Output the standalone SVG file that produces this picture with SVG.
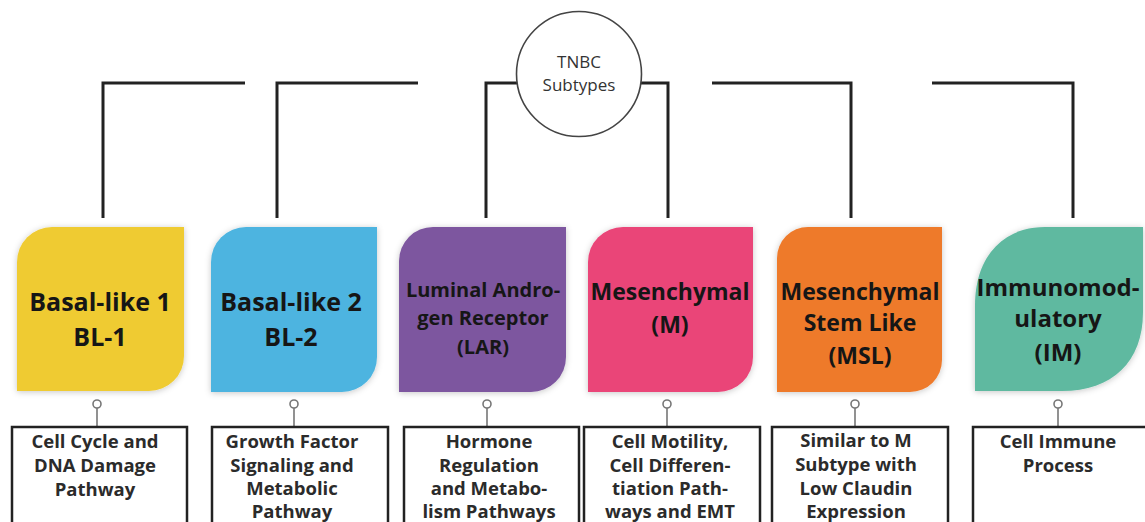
<svg xmlns="http://www.w3.org/2000/svg" width="1145" height="522" viewBox="0 0 1145 522">
<defs>
<filter id="sh" x="-10%" y="-10%" width="120%" height="120%">
<feDropShadow dx="0" dy="1" stdDeviation="3" flood-color="#000" flood-opacity="0.22"/>
</filter>
</defs>
<style>
.conn{fill:none;stroke:#222;stroke-width:3}
.stem{fill:none;stroke:#777;stroke-width:1.6}
.dot{fill:#fff;stroke:#777;stroke-width:1.6}
.hub{fill:#fff;stroke:#444;stroke-width:1.6}
.hubt{font-family:"Open Sans","Liberation Sans",sans-serif;font-size:17px;fill:#333;text-anchor:middle}
.st{font-family:"Open Sans","Liberation Sans",sans-serif;font-weight:700;fill:#161616;text-anchor:middle}
.box{fill:#fff;stroke:#222;stroke-width:2.5}
.dt{font-family:"Open Sans","Liberation Sans",sans-serif;font-weight:700;font-size:18.5px;fill:#2b2b2b;text-anchor:middle}
</style>
<rect width="1145" height="522" fill="#fff"/>
<g id="connectors">
<path class="conn" d="M245,83 H103 V218"/>
<path class="conn" d="M418,83 H277 V218"/>
<path class="conn" d="M517,83 H486 V218"/>
<path class="conn" d="M641,83 H668 V218"/>
<path class="conn" d="M712,83 H851 V218"/>
<path class="conn" d="M932,83 H1073 V218"/>
<path class="stem" d="M97,408 V427 M294,408 V427 M487,408 V427 M667,408 V427 M855,408 V427 M1058,408 V427"/>
<circle class="dot" cx="97" cy="404" r="4"/>
<circle class="dot" cx="294" cy="404" r="4"/>
<circle class="dot" cx="487" cy="404" r="4"/>
<circle class="dot" cx="667" cy="404" r="4"/>
<circle class="dot" cx="855" cy="404" r="4"/>
<circle class="dot" cx="1058" cy="404" r="4"/>
</g>
<g id="tnbc">
<circle class="hub" cx="579" cy="74" r="62.5"/>
<text class="hubt" x="579" y="68">TNBC</text>
<text class="hubt" x="579" y="91">Subtypes</text>
</g>
<g id="bl1">
<path filter="url(#sh)" fill="#EFCB33" d="M17,262 A35,35 0 0 1 52,227 H184 V356 A35,35 0 0 1 149,391 H17 Z"/>
<text class="st" font-size="25" x="100" y="311">Basal-like 1</text>
<text class="st" font-size="25" x="100" y="346">BL-1</text>
</g>
<g id="bl2">
<path filter="url(#sh)" fill="#4DB4E0" d="M211,262 A35,35 0 0 1 246,227 H377 V357 A35,35 0 0 1 342,392 H211 Z"/>
<text class="st" font-size="25" x="291" y="311">Basal-like 2</text>
<text class="st" font-size="25" x="291" y="346">BL-2</text>
</g>
<g id="lar">
<path filter="url(#sh)" fill="#7D569F" d="M399,261 A34,34 0 0 1 433,227 H566 V357 A35,35 0 0 1 531,392 H399 Z"/>
<text class="st" font-size="20" x="483" y="297">Luminal Andro-</text>
<text class="st" font-size="20" x="483" y="325">gen Receptor</text>
<text class="st" font-size="20" x="483" y="354">(LAR)</text>
</g>
<g id="m">
<path filter="url(#sh)" fill="#EA4478" d="M588,262 A35,35 0 0 1 623,227 H753 V357 A35,35 0 0 1 718,392 H588 Z"/>
<text class="st" font-size="23" x="670" y="300">Mesenchymal</text>
<text class="st" font-size="23" x="670" y="333">(M)</text>
</g>
<g id="msl">
<path filter="url(#sh)" fill="#EE7A2B" d="M777,258 A31,31 0 0 1 808,227 H942 V360 A32,32 0 0 1 910,392 H777 Z"/>
<text class="st" font-size="23" x="860" y="300">Mesenchymal</text>
<text class="st" font-size="23" x="860" y="331">Stem Like</text>
<text class="st" font-size="23" x="860" y="364">(MSL)</text>
</g>
<g id="im">
<path filter="url(#sh)" fill="#5FB9A0" d="M975,305 C975,258 1002,227 1045,227 H1143 V312 C1143,362 1112,391 1062,391 H975 Z"/>
<text class="st" font-size="24" x="1058" y="296">Immunomod-</text>
<text class="st" font-size="24" x="1058" y="327">ulatory</text>
<text class="st" font-size="24" x="1058" y="361">(IM)</text>
</g>
<g id="bl1-desc">
<rect class="box" x="12" y="427" width="175" height="110"/>
<text class="dt" x="95" y="448">Cell Cycle and</text>
<text class="dt" x="95" y="472">DNA Damage</text>
<text class="dt" x="95" y="496">Pathway</text>
</g>
<g id="bl2-desc">
<rect class="box" x="212" y="427" width="176" height="110"/>
<text class="dt" x="292" y="448">Growth Factor</text>
<text class="dt" x="292" y="472">Signaling and</text>
<text class="dt" x="292" y="495">Metabolic</text>
<text class="dt" x="292" y="518">Pathway</text>
</g>
<g id="lar-desc">
<rect class="box" x="404" y="427" width="175" height="110"/>
<text class="dt" x="489" y="448">Hormone</text>
<text class="dt" x="489" y="472">Regulation</text>
<text class="dt" x="489" y="495">and Metabo-</text>
<text class="dt" x="489" y="518">lism Pathways</text>
</g>
<g id="m-desc">
<rect class="box" x="584" y="427" width="176" height="110"/>
<text class="dt" x="670" y="448">Cell Motility,</text>
<text class="dt" x="670" y="472">Cell Differen-</text>
<text class="dt" x="670" y="495">tiation Path-</text>
<text class="dt" x="670" y="518">ways and EMT</text>
</g>
<g id="msl-desc">
<rect class="box" x="772" y="427" width="176" height="110"/>
<text class="dt" x="856" y="447">Similar to M</text>
<text class="dt" x="856" y="471">Subtype with</text>
<text class="dt" x="856" y="495">Low Claudin</text>
<text class="dt" x="856" y="518">Expression</text>
</g>
<g id="im-desc">
<rect class="box" x="973" y="427" width="180" height="110"/>
<text class="dt" x="1058" y="448">Cell Immune</text>
<text class="dt" x="1058" y="472">Process</text>
</g>
</svg>
